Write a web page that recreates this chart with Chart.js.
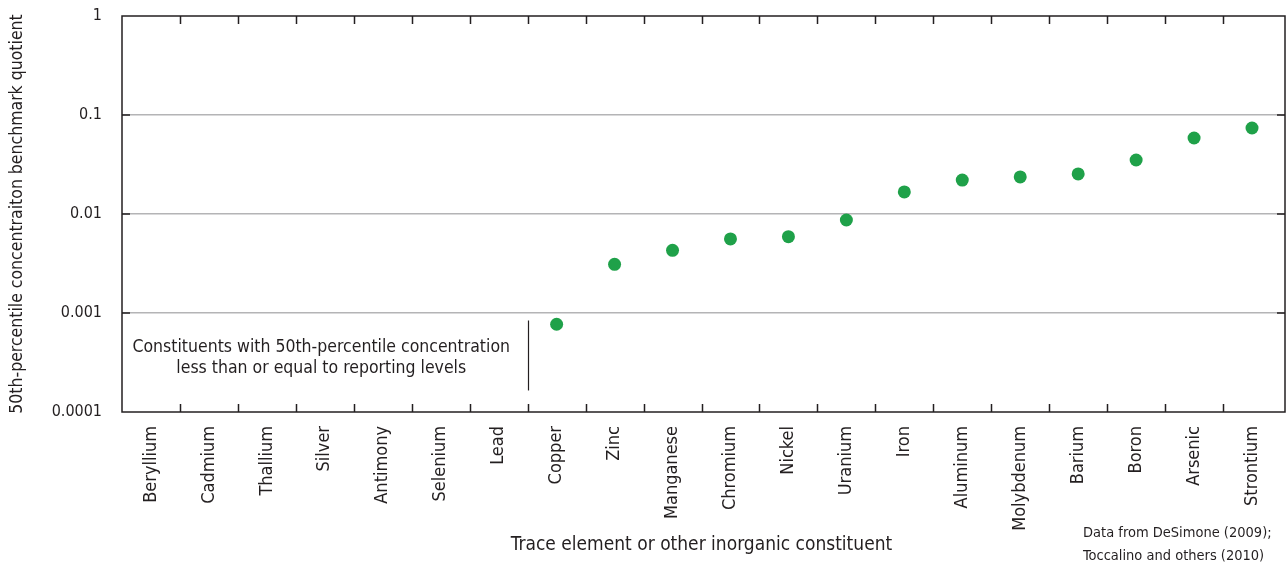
<!DOCTYPE html>
<html>
<head>
<meta charset="utf-8">
<script src="https://cdn.jsdelivr.net/npm/chart.js@4"></script>
<style>
  html, body { margin: 0; padding: 0; background: #fff; }
  #wrap { width: 1286px; height: 566px; }
</style>
</head>
<body>
<div id="wrap"><canvas id="quotientChart" width="1286" height="566"></canvas></div>
<script>
// Constituents, ordered by 50th-percentile benchmark quotient
const constituents = ['Beryllium', 'Cadmium', 'Thallium', 'Silver', 'Antimony', 'Selenium', 'Lead',
    'Copper', 'Zinc', 'Manganese', 'Chromium', 'Nickel', 'Uranium', 'Iron', 'Aluminum',
    'Molybdenum', 'Barium', 'Boron', 'Arsenic', 'Strontium'];
// null = 50th-percentile concentration at or below reporting level
const quotients = [null, null, null, null, null, null, null,
    0.00077, 0.0031, 0.0043, 0.0056, 0.0059, 0.0087, 0.0167, 0.022,
    0.0237, 0.0254, 0.0351, 0.0586, 0.0739];
const yTicks = [0.0001, 0.001, 0.01, 0.1, 1];

const FONT = "'Liberation Sans Narrow', 'DejaVu Sans Condensed', 'Roboto', sans-serif";
const TEXT = '#231f20';

// don't reserve room around the plot for the dot radius
Chart.LineController.prototype.getMaxOverflow = function () { return 0; };

// frame, inward ticks, note and source text
const extras = {
    id: 'extras',
    afterDraw(chart) {
        const ctx = chart.ctx;
        const a = chart.chartArea;
        const x = chart.scales.x;
        const y = chart.scales.y;
        const frameRight = a.right + 4;
        ctx.save();

        // carry the gridlines over to the frame
        ctx.strokeStyle = '#b4b4b6';
        ctx.lineWidth = 1.5;
        ctx.beginPath();
        yTicks.slice(1, -1).forEach(v => {
            const py = y.getPixelForValue(v);
            ctx.moveTo(a.right, py); ctx.lineTo(frameRight, py);
        });
        ctx.stroke();

        ctx.strokeStyle = '#231f20';
        ctx.strokeRect(a.left, a.top, frameRight - a.left, a.bottom - a.top);

        ctx.beginPath();
        for (let i = 1; i < constituents.length; i++) {
            const px = Math.round(x.getPixelForValue(i - 0.5)) + 0.5;
            ctx.moveTo(px, a.bottom); ctx.lineTo(px, a.bottom - 8);
            ctx.moveTo(px, a.top); ctx.lineTo(px, a.top + 8);
        }
        yTicks.slice(1, -1).forEach(v => {
            const py = y.getPixelForValue(v);
            ctx.moveTo(a.left, py); ctx.lineTo(a.left + 8, py);
            ctx.moveTo(frameRight, py); ctx.lineTo(frameRight - 8, py);
        });
        ctx.stroke();

        // divider between censored and detected constituents
        const divX = Math.round(x.getPixelForValue(6.5)) + 0.5;
        ctx.lineWidth = 1.2;
        ctx.beginPath();
        ctx.moveTo(divX, y.getPixelForValue(0.00084));
        ctx.lineTo(divX, y.getPixelForValue(0.000165));
        ctx.stroke();

        ctx.fillStyle = TEXT;
        ctx.font = '17.5px ' + FONT;
        ctx.textAlign = 'center';
        ctx.textBaseline = 'middle';
        const noteX = (a.left + divX) / 2 - 4;
        ctx.fillText('Constituents with 50th-percentile concentration', noteX, 347);
        ctx.fillText('less than or equal to reporting levels', noteX, 368);

        ctx.font = '14.5px ' + FONT;
        ctx.textAlign = 'left';
        ctx.fillText('Data from DeSimone (2009);', 1083, 533);
        ctx.fillText('Toccalino and others (2010)', 1083, 556);
        ctx.restore();
    }
};

new Chart(document.getElementById('quotientChart'), {
    type: 'line',
    data: {
        labels: constituents,
        datasets: [{
            label: 'Benchmark quotient',
            data: quotients,
            showLine: false,
            pointRadius: 6.5,
            pointHoverRadius: 6.5,
            pointBackgroundColor: '#1fa149',
            pointBorderColor: '#1fa149',
            pointBorderWidth: 0
        }]
    },
    options: {
        responsive: false,
        animation: false,
        layout: { padding: { top: 16, right: 5, bottom: 10, left: 0 } },
        plugins: {
            legend: { display: false },
            tooltip: { enabled: false }
        },
        scales: {
            x: {
                type: 'category',
                offset: true,
                grid: { display: false, drawTicks: false },
                border: { display: false },
                ticks: {
                    color: TEXT,
                    font: { family: FONT, size: 18 },
                    minRotation: 90,
                    maxRotation: 90,
                    padding: 14,
                    autoSkip: false
                },
                title: {
                    display: true,
                    text: 'Trace element or other inorganic constituent',
                    color: TEXT,
                    font: { family: FONT, size: 19 },
                    padding: { top: 0, bottom: 0 }
                },
                afterFit(scale) {
                    scale.height = 144;
                    scale.paddingLeft = 0;
                    scale.paddingRight = 0;
                }
            },
            y: {
                type: 'logarithmic',
                min: 0.0001,
                max: 1,
                afterBuildTicks(scale) {
                    scale.ticks = yTicks.map(v => ({ value: v }));
                },
                grid: {
                    color: ctx => (ctx.tick && (ctx.tick.value === 1 || ctx.tick.value === 0.0001)) ? 'rgba(0,0,0,0)' : '#b4b4b6',
                    lineWidth: 1.5,
                    drawTicks: false
                },
                border: { display: false },
                ticks: {
                    color: TEXT,
                    font: { family: FONT, size: 16 },
                    padding: 20,
                    callback: v => v.toString()
                },
                title: {
                    display: true,
                    text: '50th-percentile concentraiton benchmark quotient',
                    color: TEXT,
                    font: { family: FONT, size: 17.5 },
                    padding: { top: 7, bottom: 0 }
                },
                afterFit(scale) {
                    scale.width = 122;
                    scale.paddingTop = 0;
                    scale.paddingBottom = 0;
                }
            }
        }
    },
    plugins: [extras]
});
</script>
</body>
</html>
